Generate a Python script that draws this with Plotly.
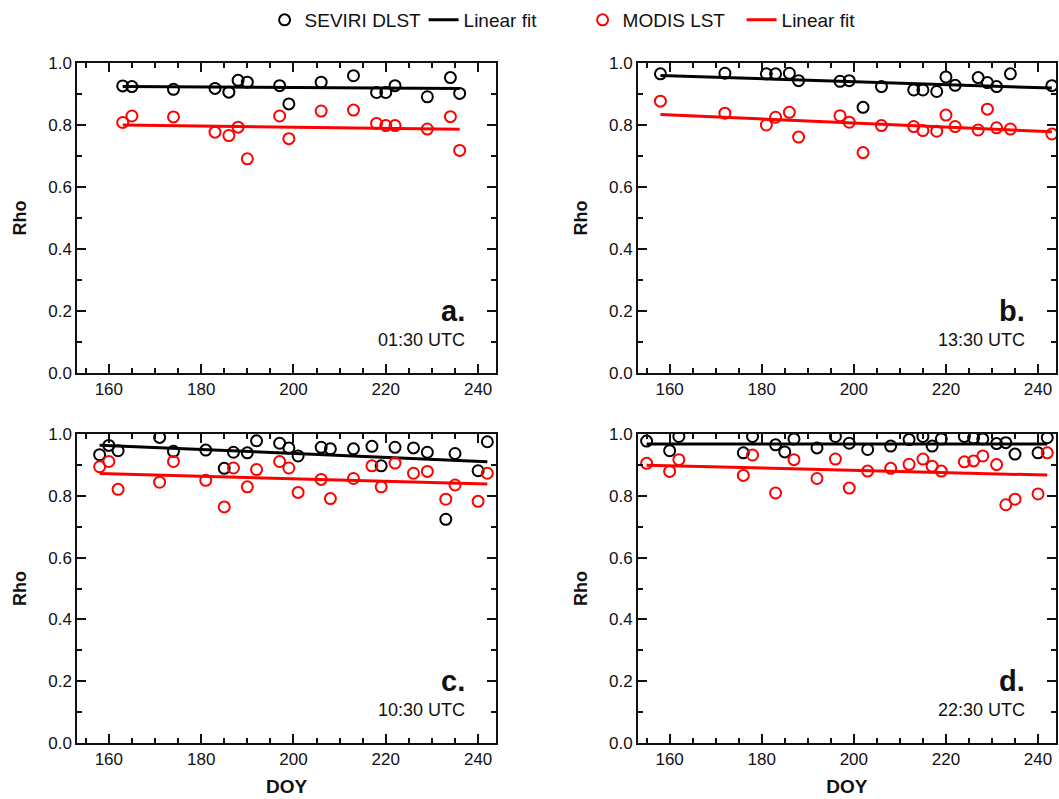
import plotly.graph_objects as go

# ---------------- data ----------------
# Panel a (01:30 UTC)
doy_a = [163, 165, 174, 183, 186, 188, 190, 197, 199, 206, 213, 218, 220, 222, 229, 234, 236]
seviri_a = [0.926, 0.924, 0.915, 0.918, 0.906, 0.944, 0.938, 0.927, 0.868, 0.938, 0.959,
            0.905, 0.905, 0.927, 0.891, 0.953, 0.902]
modis_a = [0.808, 0.829, 0.826, 0.777, 0.766, 0.793, 0.691, 0.829, 0.756, 0.845, 0.848,
           0.805, 0.798, 0.798, 0.787, 0.827, 0.718]
fit_doy_a = [163, 236]
fit_seviri_a = [0.924, 0.918]
fit_modis_a = [0.800, 0.786]

# Panel b (13:30 UTC)
doy_b = [158, 172, 181, 183, 186, 188, 197, 199, 202, 206, 213, 215, 218, 220, 222, 227, 229, 231, 234, 243]
seviri_b = [0.965, 0.967, 0.965, 0.965, 0.967, 0.943, 0.941, 0.943, 0.857, 0.924, 0.913,
            0.913, 0.908, 0.955, 0.928, 0.953, 0.937, 0.924, 0.965, 0.927]
modis_b = [0.877, 0.838, 0.800, 0.825, 0.841, 0.761, 0.830, 0.809, 0.711, 0.798, 0.795,
           0.782, 0.780, 0.832, 0.795, 0.784, 0.851, 0.791, 0.787, 0.771]
fit_doy_b = [158, 243]
fit_seviri_b = [0.960, 0.919]
fit_modis_b = [0.834, 0.778]

# Panel c (10:30 UTC)
doy_c = [158, 160, 162, 171, 174, 181, 185, 187, 190, 192, 197, 199, 201, 206, 208, 213,
         217, 219, 222, 226, 229, 233, 235, 240, 242]
seviri_c = [0.933, 0.963, 0.946, 0.989, 0.944, 0.948, 0.889, 0.941, 0.939, 0.978, 0.970,
            0.955, 0.929, 0.957, 0.952, 0.952, 0.960, 0.897, 0.957, 0.955, 0.941, 0.724,
            0.937, 0.881, 0.975]
modis_c = [0.894, 0.911, 0.821, 0.844, 0.911, 0.850, 0.764, 0.890, 0.829, 0.885, 0.911,
           0.890, 0.811, 0.853, 0.791, 0.856, 0.897, 0.829, 0.906, 0.873, 0.879, 0.789,
           0.835, 0.782, 0.873]
fit_doy_c = [158, 242]
fit_seviri_c = [0.964, 0.910]
fit_modis_c = [0.872, 0.838]

# Panel d (22:30 UTC)
doy_d_seviri = [155, 160, 162, 176, 178, 183, 185, 187, 192, 196, 199, 203, 208, 212, 215,
                217, 219, 224, 226, 228, 231, 233, 235, 240, 242]
seviri_d = [0.977, 0.946, 0.992, 0.939, 0.992, 0.965, 0.942, 0.984, 0.955, 0.992, 0.970,
            0.950, 0.961, 0.982, 0.992, 0.961, 0.984, 0.992, 0.987, 0.984, 0.969, 0.972,
            0.935, 0.939, 0.988]
doy_d_modis = [155, 160, 162, 176, 178, 183, 187, 192, 196, 199, 203, 208, 212, 215, 217,
               219, 224, 226, 228, 231, 233, 235, 240, 242]
modis_d = [0.905, 0.879, 0.917, 0.866, 0.932, 0.809, 0.917, 0.856, 0.919, 0.825, 0.880,
           0.889, 0.902, 0.919, 0.896, 0.880, 0.910, 0.913, 0.929, 0.901, 0.771, 0.789,
           0.806, 0.939]
fit_doy_d = [155, 242]
fit_seviri_d = [0.968, 0.968]
fit_modis_d = [0.899, 0.867]

panel_letters = ["a.", "b.", "c.", "d."]
panel_times = ["01:30 UTC", "13:30 UTC", "10:30 UTC", "22:30 UTC"]
x_ticks = [160, 180, 200, 220, 240]
y_ticks = [0.0, 0.2, 0.4, 0.6, 0.8, 1.0]

# ---------------- figure ----------------
FONT = "Arial, Liberation Sans, sans-serif"
BLACK = "#000000"
RED = "#ff0000"
INK = "#111111"

panels = [
    (doy_a, seviri_a, doy_a, modis_a, fit_doy_a, fit_seviri_a, fit_modis_a),
    (doy_b, seviri_b, doy_b, modis_b, fit_doy_b, fit_seviri_b, fit_modis_b),
    (doy_c, seviri_c, doy_c, modis_c, fit_doy_c, fit_seviri_c, fit_modis_c),
    (doy_d_seviri, seviri_d, doy_d_modis, modis_d, fit_doy_d, fit_seviri_d, fit_modis_d),
]

fig = go.Figure()
for i, (xs, ys, xm, ym, fx, fs, fm) in enumerate(panels):
    ax = "" if i == 0 else str(i + 1)
    show = i == 0
    common = dict(xaxis="x" + ax, yaxis="y" + ax)
    fig.add_trace(go.Scatter(x=fx, y=fs, mode="lines", name="Linear fit",
                             line=dict(color=BLACK, width=3), showlegend=show,
                             legendrank=2, **common))
    fig.add_trace(go.Scatter(x=fx, y=fm, mode="lines", name="Linear fit",
                             line=dict(color=RED, width=3), showlegend=show,
                             legendrank=4, **common))
    fig.add_trace(go.Scatter(x=xs, y=ys, mode="markers", name="SEVIRI DLST",
                             marker=dict(symbol="circle-open", size=11, color=BLACK,
                                         line=dict(width=2, color=BLACK)),
                             showlegend=show, legendrank=1, **common))
    fig.add_trace(go.Scatter(x=xm, y=ym, mode="markers", name="MODIS LST",
                             marker=dict(symbol="circle-open", size=11, color=RED,
                                         line=dict(width=2, color=RED)),
                             showlegend=show, legendrank=3, **common))

W, H = 1059, 799
xdoms = [[0, 0.4281], [0.5729, 1], [0, 0.4281], [0.5729, 1]]
ydoms = [[0.5441, 1], [0.5441, 1], [0, 0.4544], [0, 0.4544]]

axis_common = dict(
    showline=True, linecolor=INK, linewidth=1.5, mirror="ticks",
    ticks="inside", ticklen=9, tickwidth=1.5, tickcolor=INK,
    showgrid=False, zeroline=False,
    tickfont=dict(family=FONT, size=17, color=INK),
)

layout = dict(
    width=W, height=H, autosize=False,
    margin=dict(l=77, r=1, t=63, b=56),
    plot_bgcolor="white", paper_bgcolor="white",
    font=dict(family=FONT, color=INK),
    legend=dict(orientation="h", x=0.1916, xanchor="left", y=1 - 20 / H, yanchor="middle",
                yref="container", font=dict(family=FONT, size=19, color=INK),
                traceorder="normal", entrywidth=114, bgcolor="rgba(0,0,0,0)"),
    annotations=[],
)

for i in range(4):
    ax = "" if i == 0 else str(i + 1)
    layout["xaxis" + ax] = dict(
        axis_common, domain=xdoms[i], range=[153.1, 243.9], anchor="y" + ax,
        tickvals=x_ticks,
        minor=dict(dtick=5, tick0=0, ticks="inside", ticklen=5, tickwidth=1.5,
                   tickcolor=INK, showgrid=False),
        title=dict(text="<b>DOY</b>" if i >= 2 else "", standoff=12,
                   font=dict(family=FONT, size=19, color=INK)),
    )
    layout["yaxis" + ax] = dict(
        axis_common, domain=ydoms[i], range=[0, 1.0], anchor="x" + ax,
        tickvals=y_ticks, tickformat=".1f",
        minor=dict(dtick=0.1, tick0=0, ticks="inside", ticklen=5, tickwidth=1.5,
                   tickcolor=INK, showgrid=False),
        title=dict(text="<b>Rho</b>", standoff=17,
                   font=dict(family=FONT, size=18, color=INK)),
    )
    xr = "x" + ax + " domain"
    yr = "y" + ax + " domain"
    layout["annotations"].append(dict(
        text="<b>" + panel_letters[i] + "</b>", xref=xr, yref=yr, x=0.93, y=0.142,
        xanchor="right", yanchor="bottom", showarrow=False,
        font=dict(family=FONT, size=29, color=INK)))
    layout["annotations"].append(dict(
        text=panel_times[i], xref=xr, yref=yr, x=0.93, y=0.108,
        xanchor="right", yanchor="middle", showarrow=False,
        font=dict(family=FONT, size=18, color=INK)))

fig.update_layout(**layout)
# remove the browser's default 8px page margin so the figure fills the window exactly
fig.write_html("out.html",
               config={"displayModeBar": False},
               post_script="document.body.style.margin='0px';"
                           "document.body.style.overflow='hidden';")
